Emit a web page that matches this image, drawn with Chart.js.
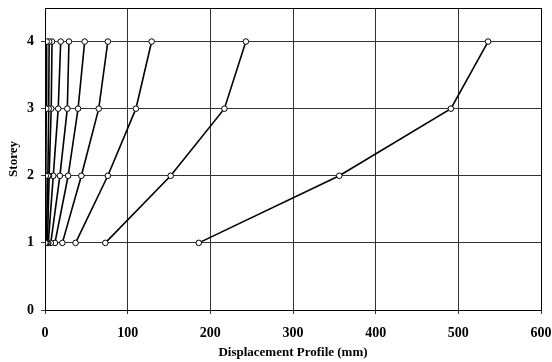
<!DOCTYPE html>
<html lang="en">
<head>
    <meta charset="UTF-8" />
    <title>Displacement Profile</title>
    <script src="https://cdn.jsdelivr.net/npm/chart.js"></script>
    <style>
        html, body { margin: 0; padding: 0; background: #fff; }
        #chartContainer { width: 552px; height: 362px; }
    </style>
</head>
<body>

<div id="chartContainer">
    <canvas id="myChart" width="552" height="362"></canvas>
</div>

<script>
    // storey levels (y) and the displacement of each profile at those storeys (mm)
    const storeys = [1, 2, 3, 4];
    const profile1 = [0.5, 1, 1.5, 2];
    const profile2 = [1.5, 3.5, 4.5, 5];
    const profile3 = [3, 5, 7.5, 8.5];
    const profile4 = [4, 10, 16, 19];
    const profile5 = [7, 18, 27, 29];
    const profile6 = [12, 28, 40, 48];
    const profile7 = [21, 44, 65, 76];
    const profile8 = [37, 76, 110, 129];
    const profile9 = [73, 152, 217, 243];
    const profile10 = [186, 356, 491, 536];
    const profiles = [profile1, profile2, profile3, profile4, profile5,
                      profile6, profile7, profile8, profile9, profile10];
    const xTicks = [0, 100, 200, 300, 400, 500, 600];
    const yTicks = [0, 1, 2, 3, 4];

    const font = 'Liberation Serif, Times New Roman, serif';

    // draws the black frame around the plot area
    const framePlugin = {
        id: 'frame',
        afterDraw(chart) {
            const a = chart.chartArea;
            const c = chart.ctx;
            c.save();
            c.strokeStyle = '#000';
            c.lineWidth = 1;
            c.strokeRect(Math.round(a.left) + 0.5, Math.round(a.top) + 0.5,
                         Math.round(a.right - a.left), Math.round(a.bottom - a.top));
            c.restore();
        }
    };

    const datasets = profiles.map(p => ({
        data: p.map((x, i) => ({ x: x, y: storeys[i] })),
        showLine: true,
        borderColor: '#000',
        borderWidth: 1.6,
        pointRadius: 2.8,
        pointBackgroundColor: '#fff',
        pointBorderColor: '#000',
        pointBorderWidth: 1
    }));

    new Chart(document.getElementById('myChart').getContext('2d'), {
        type: 'scatter',
        data: { datasets: datasets },
        options: {
            responsive: false,
            animation: false,
            layout: { padding: { left: 0, right: 11, top: 8, bottom: 0 } },
            plugins: { legend: { display: false }, tooltip: { enabled: false } },
            scales: {
                x: {
                    type: 'linear',
                    min: 0,
                    max: 600,
                    afterBuildTicks: axis => { axis.ticks = xTicks.map(v => ({ value: v })); },
                    afterFit: axis => {
                        axis.height = 52;
                        axis.paddingLeft = 0;
                        axis.paddingRight = 0;
                    },
                    grid: { color: '#333', lineWidth: 1, tickLength: 4 },
                    border: { color: '#000' },
                    ticks: { color: '#000', padding: 11, maxRotation: 0,
                             font: { family: font, size: 14, weight: 'bold' } },
                    title: { display: true, text: 'Displacement Profile (mm)', color: '#000',
                             padding: { top: 0, bottom: 2 },
                             font: { family: font, size: 13, weight: 'bold' } }
                },
                y: {
                    type: 'linear',
                    min: 0,
                    max: 4.5,
                    afterBuildTicks: axis => { axis.ticks = yTicks.map(v => ({ value: v })); },
                    afterFit: axis => {
                        axis.width = 45;
                        axis.paddingTop = 0;
                        axis.paddingBottom = 0;
                    },
                    grid: { color: '#333', lineWidth: 1, tickLength: 4 },
                    border: { color: '#000' },
                    ticks: { color: '#000', padding: 7,
                             font: { family: font, size: 14, weight: 'bold' } },
                    title: { display: true, text: 'Storey', color: '#000',
                             padding: { top: 6, bottom: 0 },
                             font: { family: font, size: 13, weight: 'bold' } }
                }
            }
        },
        plugins: [framePlugin]
    });
</script>

</body>
</html>
